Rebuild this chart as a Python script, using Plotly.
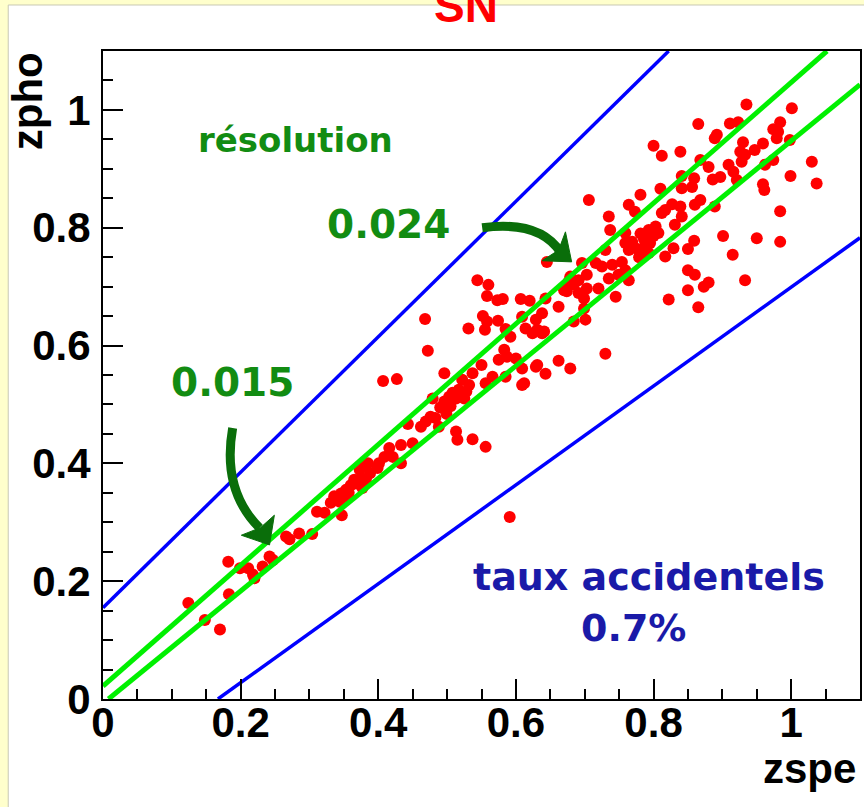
import plotly.graph_objects as go

# photometric vs spectroscopic redshift, SN sample
zspe = [
    0.124, 0.148, 0.170, 0.182, 0.183, 0.199, 0.211, 0.218, 0.220, 0.232, 0.242, 0.247,
    0.266, 0.271, 0.285, 0.304, 0.311, 0.322, 0.331, 0.347, 0.336, 0.346, 0.353, 0.360,
    0.368, 0.375, 0.373, 0.382, 0.399, 0.377, 0.344, 0.340, 0.357, 0.365, 0.388, 0.356,
    0.544, 0.560, 0.558, 0.573, 0.581, 0.607, 0.620, 0.468, 0.552, 0.558, 0.574, 0.585,
    0.531, 0.555, 0.592, 0.609, 0.614, 0.624, 0.472, 0.583, 0.575, 0.587, 0.600, 0.609,
    0.629, 0.550, 0.496, 0.407, 0.427, 0.537, 0.532, 0.522, 0.566, 0.585, 0.556, 0.609,
    0.517, 0.503, 0.513, 0.525, 0.479, 0.496, 0.476, 0.469, 0.462, 0.483, 0.499, 0.488,
    0.443, 0.513, 0.515, 0.537, 0.556, 0.433, 0.450, 0.416, 0.409, 0.421, 0.401, 0.433,
    0.385, 0.377, 0.508, 0.528, 0.490, 0.505,
    0.645, 0.679, 0.674, 0.662, 0.643, 0.638, 0.629, 0.631, 0.641,
    0.706, 0.764, 0.773, 0.735, 0.812, 0.817, 0.831, 0.737, 0.759, 0.793, 0.803, 0.790,
    0.807, 0.759, 0.769, 0.764, 0.788, 0.829, 0.730, 0.817, 0.696, 0.716, 0.725, 0.740,
    0.754, 0.759, 0.703, 0.691, 0.684, 0.735, 0.749, 0.720, 0.703, 0.691, 0.699, 0.670,
    0.677, 0.745, 0.764, 0.699, 0.701, 0.684, 0.638, 0.730, 0.662, 0.679, 0.631, 0.643,
    0.612, 0.822, 0.827,
    0.935, 1.001, 0.865, 0.911, 0.923, 0.892, 0.889, 0.974, 0.984, 0.981, 0.979, 0.998,
    0.800, 0.812, 0.839, 0.930, 0.959, 0.947, 0.926, 0.933, 0.928, 0.909, 0.868, 0.880,
    0.916, 0.897, 0.886, 0.859, 0.841, 0.921, 0.962, 0.974, 1.030, 0.999, 0.959, 0.961,
    1.037, 0.810, 0.841, 0.856, 0.781, 0.868, 0.860, 0.889, 0.839, 0.841, 0.788, 0.795,
    0.793, 0.850, 0.859, 0.984, 0.901, 0.950, 0.984, 0.915, 0.850, 0.860, 0.880, 0.873,
    0.850, 0.933, 0.865, 0.781, 0.786, 0.800, 0.774, 0.779,
    0.591,
]
zpho = [
    0.163, 0.134, 0.118, 0.233, 0.178, 0.222, 0.222, 0.211, 0.205, 0.225, 0.242, 0.236,
    0.276, 0.271, 0.281, 0.280, 0.318, 0.316, 0.333, 0.312, 0.344, 0.349, 0.355, 0.363,
    0.366, 0.375, 0.389, 0.372, 0.392, 0.358, 0.335, 0.338, 0.350, 0.372, 0.383, 0.343,
    0.711, 0.703, 0.684, 0.677, 0.679, 0.679, 0.676, 0.645, 0.650, 0.641, 0.642, 0.628,
    0.629, 0.627, 0.615, 0.649, 0.629, 0.621, 0.591, 0.593, 0.576, 0.581, 0.578, 0.561,
    0.564, 0.567, 0.553, 0.540, 0.543, 0.553, 0.533, 0.542, 0.547, 0.547, 0.536, 0.533,
    0.525, 0.513, 0.510, 0.510, 0.510, 0.505, 0.479, 0.471, 0.462, 0.477, 0.484, 0.462,
    0.467, 0.454, 0.440, 0.441, 0.428, 0.431, 0.434, 0.426, 0.411, 0.411, 0.400, 0.400,
    0.400, 0.394, 0.520, 0.522, 0.495, 0.497,
    0.742, 0.717, 0.692, 0.666, 0.680, 0.655, 0.644, 0.627, 0.624,
    0.847, 0.839, 0.827, 0.819, 0.825, 0.830, 0.805, 0.796, 0.791, 0.796, 0.802, 0.785,
    0.791, 0.774, 0.776, 0.762, 0.762, 0.765, 0.762, 0.751, 0.740, 0.740, 0.734, 0.737,
    0.742, 0.728, 0.720, 0.711, 0.703, 0.714, 0.720, 0.697, 0.697, 0.689, 0.680, 0.694,
    0.709, 0.683, 0.711, 0.663, 0.644, 0.641, 0.621, 0.586, 0.574, 0.561, 0.567, 0.552,
    0.536, 0.678, 0.840,
    1.009, 1.003, 0.976, 0.977, 0.979, 0.958, 0.952, 0.967, 0.979, 0.963, 0.952, 0.949,
    0.939, 0.922, 0.929, 0.945, 0.943, 0.932, 0.929, 0.924, 0.912, 0.907, 0.915, 0.903,
    0.895, 0.886, 0.882, 0.884, 0.888, 0.881, 0.907, 0.915, 0.912, 0.888, 0.874, 0.864,
    0.875, 0.866, 0.867, 0.869, 0.856, 0.847, 0.839, 0.836, 0.836, 0.819, 0.771, 0.774,
    0.757, 0.764, 0.778, 0.828, 0.786, 0.782, 0.776, 0.754, 0.728, 0.720, 0.707, 0.700,
    0.694, 0.711, 0.665, 0.790, 0.781, 0.786, 0.765, 0.750,
    0.309,
]

# accidental-rate limits (blue) and resolution band (green), as segment end points
blue_hi_x, blue_hi_y = [0.0, 0.822], [0.155, 1.1]
blue_lo_x, blue_lo_y = [0.167, 1.1], [0.0, 0.783]
green_hi_x, green_hi_y = [0.0, 1.052], [0.022, 1.1]
green_lo_x, green_lo_y = [0.008, 1.1], [0.0, 1.043]

tick_vals = [0, 0.2, 0.4, 0.6, 0.8, 1.0]
tick_text = ["0", "0.2", "0.4", "0.6", "0.8", "1"]

AXIS_FONT = dict(family="Liberation Sans, Arial, sans-serif", size=42, color="black", weight="bold")
NOTE_FONT = "DejaVu Sans, sans-serif"
GREEN_TXT = "#128c12"
ARROW_GREEN = "#0a6e0a"
BLUE_TXT = "#1a1aa8"

fig = go.Figure()

fig.add_trace(go.Scatter(
    x=zspe, y=zpho, mode="markers",
    marker=dict(color="#ff0000", size=12, line=dict(width=0)),
    showlegend=False, hoverinfo="skip"))

for xs, ys, col, w in [
    (blue_hi_x, blue_hi_y, "#0000ff", 3.5),
    (blue_lo_x, blue_lo_y, "#0000ff", 3.5),
    (green_hi_x, green_hi_y, "#00f000", 5),
    (green_lo_x, green_lo_y, "#00f000", 5),
]:
    fig.add_trace(go.Scatter(x=xs, y=ys, mode="lines",
                             line=dict(color=col, width=w),
                             showlegend=False, hoverinfo="skip"))

axis_common = dict(
    range=[0, 1.1], showgrid=False, zeroline=False,
    showline=True, linecolor="black", linewidth=2, mirror=True,
    ticks="inside", ticklen=20, tickwidth=2, tickcolor="black",
    tickvals=tick_vals, ticktext=tick_text,
    minor=dict(ticks="inside", ticklen=10, tickwidth=2, tickcolor="black", dtick=0.05, showgrid=False),
    tickfont=AXIS_FONT,
)

fig.update_xaxes(**axis_common, ticklabelstandoff=-14)
fig.update_yaxes(**axis_common, ticklabelstandoff=2)

shapes = [
    # white canvas inside the pale-yellow frame
    dict(type="rect", xref="paper", yref="paper", x0=-0.1252, x1=1.01, y0=-0.2, y1=1.0710,
         fillcolor="white", line=dict(color="#c8c8b4", width=1), layer="below"),
    # curved arrow towards 0.024 band
    dict(type="path", xref="x", yref="y",
         path="M 0.551,0.800 Q 0.635,0.813 0.665,0.758",
         line=dict(color=ARROW_GREEN, width=9)),
    dict(type="path", xref="x", yref="y",
         path="M 0.681,0.742 L 0.638,0.744 L 0.662,0.762 L 0.672,0.793 Z",
         fillcolor=ARROW_GREEN, line=dict(color=ARROW_GREEN, width=1)),
    # curved arrow towards 0.015 band
    dict(type="path", xref="x", yref="y",
         path="M 0.1884,0.460 Q 0.1725,0.3548 0.2275,0.2903",
         line=dict(color=ARROW_GREEN, width=9)),
    dict(type="path", xref="x", yref="y",
         path="M 0.242,0.2615 L 0.201,0.278 L 0.229,0.291 L 0.249,0.312 Z",
         fillcolor=ARROW_GREEN, line=dict(color=ARROW_GREEN, width=1)),
]

annotations = [
    dict(text="SN", xref="paper", yref="paper", x=0.4796, y=1.069, showarrow=False,
         xanchor="center", yanchor="middle",
         font=dict(family="Liberation Sans, Arial, sans-serif", size=46, color="#ff0000", weight="bold")),
    dict(text="zspe", xref="paper", yref="paper", x=(860 - 103) / 759, y=(699 - 768) / 648,
         showarrow=False, xanchor="right", yanchor="middle", font=AXIS_FONT),
    dict(text="zpho", xref="paper", yref="paper", x=(27 - 103) / 759, y=(699 - 101) / 648,
         showarrow=False, xanchor="center", yanchor="middle", textangle=-90, font=AXIS_FONT),
    dict(text="résolution", x=0.2797, y=0.949, showarrow=False,
         font=dict(family=NOTE_FONT, size=34, color=GREEN_TXT, weight="bold")),
    dict(text="0.024", x=0.4145, y=0.805, showarrow=False,
         font=dict(family=NOTE_FONT, size=39, color=GREEN_TXT, weight="bold")),
    dict(text="0.015", x=0.1884, y=0.538, showarrow=False,
         font=dict(family=NOTE_FONT, size=39, color=GREEN_TXT, weight="bold")),
    dict(text="taux accidentels", x=0.793, y=0.207, showarrow=False,
         font=dict(family=NOTE_FONT, size=38, color=BLUE_TXT, weight="bold")),
    dict(text="0.7%", x=0.771, y=0.1205, showarrow=False,
         font=dict(family=NOTE_FONT, size=38, color=BLUE_TXT, weight="bold")),
]

fig.update_layout(
    width=864, height=807,
    margin=dict(l=103, r=2, t=51, b=108),
    paper_bgcolor="#ffffcc", plot_bgcolor="white",
    shapes=shapes, annotations=annotations,
    showlegend=False,
)

fig.write_html("out.html")
